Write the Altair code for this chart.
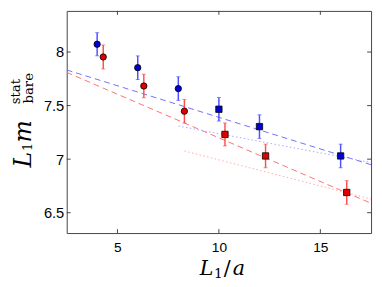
import altair as alt
import pandas as pd

# data
blue_x = [4, 6, 8, 10, 12, 16]
blue_y = [8.073, 7.854, 7.659, 7.466, 7.304, 7.03]
blue_err = [0.108, 0.11, 0.11, 0.11, 0.11, 0.11]
red_x = [4.3, 6.3, 8.3, 10.3, 12.3, 16.3]
red_y = [7.954, 7.683, 7.448, 7.231, 7.03, 6.689]
red_err = [0.112, 0.11, 0.11, 0.107, 0.11, 0.11]
shapes = ["circle", "circle", "circle", "square", "square", "square"]

# fit lines (endpoints)
blue_dash_x = [2.5, 17.5]
blue_dash_y = [7.833, 6.948]
red_dash_x = [2.5, 17.5]
red_dash_y = [7.81, 6.588]
blue_dot_x = [8.0, 17.5]
blue_dot_y = [7.31, 6.969]
red_dot_x = [8.3, 17.5]
red_dot_y = [7.076, 6.628]

x_ticks = [5, 10, 15]
y_ticks = [6.5, 7, 7.5, 8]

W, H = 311, 227
XDOM = [2.5, 17.5]
YDOM = [6.31, 8.384]

pts = pd.DataFrame(
    [dict(x=x, y=y, lo=y - e, hi=y + e, shape=s, s="blue") for x, y, e, s in zip(blue_x, blue_y, blue_err, shapes)]
    + [dict(x=x, y=y, lo=y - e, hi=y + e, shape=s, s="red") for x, y, e, s in zip(red_x, red_y, red_err, shapes)]
)

lines = pd.DataFrame(
    [dict(x=x, y=y, g="bd") for x, y in zip(blue_dash_x, blue_dash_y)]
    + [dict(x=x, y=y, g="rd") for x, y in zip(red_dash_x, red_dash_y)]
    + [dict(x=x, y=y, g="bo") for x, y in zip(blue_dot_x, blue_dot_y)]
    + [dict(x=x, y=y, g="ro") for x, y in zip(red_dot_x, red_dot_y)]
)

xs = alt.Scale(domain=XDOM, nice=False, zero=False)
ys = alt.Scale(domain=YDOM, nice=False, zero=False)

X = alt.X("x:Q", scale=xs, axis=alt.Axis(values=x_ticks, title=None, grid=False, ticks=False, domain=False,
                                          labelFont="Liberation Sans", labelFontSize=14, labelColor="black",
                                          labelPadding=8, labelFlush=False, format="~g"))
Y = alt.Y("y:Q", scale=ys, axis=alt.Axis(values=y_ticks, title=None, grid=False, ticks=False, domain=False,
                                          labelFont="Liberation Sans", labelFontSize=15, labelColor="black",
                                          labelPadding=3, labelFlush=False, format="~g"))

def fitline(g, color, dash):
    return alt.Chart(lines[lines.g == g]).mark_line(color=color, strokeWidth=1, strokeDash=dash, clip=True).encode(
        x=alt.X("x:Q", scale=xs), y=alt.Y("y:Q", scale=ys))

base = alt.Chart(pts)
color_enc = alt.Color("s:N", scale=alt.Scale(domain=["blue", "red"], range=["#0000d0", "#e00000"]), legend=None)
err_enc = alt.Color("s:N", scale=alt.Scale(domain=["blue", "red"], range=["#5050ff", "#ff5050"]), legend=None)

axes = base.mark_point(opacity=0).encode(x=X, y=Y)
err = base.mark_rule(strokeWidth=1.5).encode(x=alt.X("x:Q", scale=xs), y=alt.Y("lo:Q", scale=ys), y2="hi:Q", color=err_enc)
cap_lo = base.mark_tick(orient="horizontal", size=4, thickness=1).encode(x=alt.X("x:Q", scale=xs), y=alt.Y("lo:Q", scale=ys), color=err_enc)
cap_hi = base.mark_tick(orient="horizontal", size=4, thickness=1).encode(x=alt.X("x:Q", scale=xs), y=alt.Y("hi:Q", scale=ys), color=err_enc)
marks = base.mark_point(filled=True, size=42, stroke="black", strokeWidth=0.8, opacity=1).encode(
    x=alt.X("x:Q", scale=xs), y=alt.Y("y:Q", scale=ys),
    shape=alt.Shape("shape:N", scale=alt.Scale(domain=["circle", "square"], range=["circle", "square"]), legend=None),
    fill=color_enc)

xt = pd.DataFrame({"x": x_ticks})
yt = pd.DataFrame({"y": y_ticks})
tick_col = "#444444"
xt_b = alt.Chart(xt).mark_rule(color=tick_col, strokeWidth=1).encode(x=alt.X("x:Q", scale=xs), y=alt.value(H), y2=alt.value(H - 4))
xt_t = alt.Chart(xt).mark_rule(color=tick_col, strokeWidth=1).encode(x=alt.X("x:Q", scale=xs), y=alt.value(0), y2=alt.value(4))
yt_l = alt.Chart(yt).mark_rule(color=tick_col, strokeWidth=1).encode(y=alt.Y("y:Q", scale=ys), x=alt.value(0), x2=alt.value(4))
yt_r = alt.Chart(yt).mark_rule(color=tick_col, strokeWidth=1).encode(y=alt.Y("y:Q", scale=ys), x=alt.value(W), x2=alt.value(W - 4))

def txt(t, x, y, size, italic, angle=0):
    kw = dict(text=t, font="DejaVu Serif", fontSize=size, align="center", baseline="alphabetic", color="black")
    if italic:
        kw["fontStyle"] = "italic"
    if angle:
        kw["angle"] = angle
    return alt.Chart(pd.DataFrame({"a": [0]})).mark_text(**kw).encode(x=alt.value(x), y=alt.value(y))

titles = [
    # x title  L_1/a
    txt("L", 143, 269.5, 21, True),
    txt("1", 155, 273, 14, False),
    txt("/", 164, 269.5, 21, False),
    txt("a", 176, 269.5, 21, True),
    # y title  L_1 m^stat_bare (rotated)
    txt("L", -37, 152, 24, True, 270),
    txt("1", -35, 139, 13, False, 270),
    txt("m", -37, 123, 24, True, 270),
    txt("stat", -47.5, 82.5, 13.5, False, 270),
    txt("bare", -34.5, 79, 13.5, False, 270),
]

chart = alt.layer(
    axes,
    fitline("bd", "#7070ff", [6, 4]),
    fitline("rd", "#ff7070", [6, 4]),
    fitline("bo", "#a8a8ff", [1.5, 2.5]),
    fitline("ro", "#ffa8a8", [1.5, 2.5]),
    err, cap_lo, cap_hi, marks,
    xt_b, xt_t, yt_l, yt_r,
    *titles,
).properties(
    width=W, height=H,
    autosize=alt.AutoSizeParams(type="none"),
    padding={"left": 60, "top": 0, "right": 3, "bottom": 46},
).configure_view(stroke="#444444", strokeWidth=1)

chart.save("out.html", embed_options={"renderer": "svg", "actions": False})
